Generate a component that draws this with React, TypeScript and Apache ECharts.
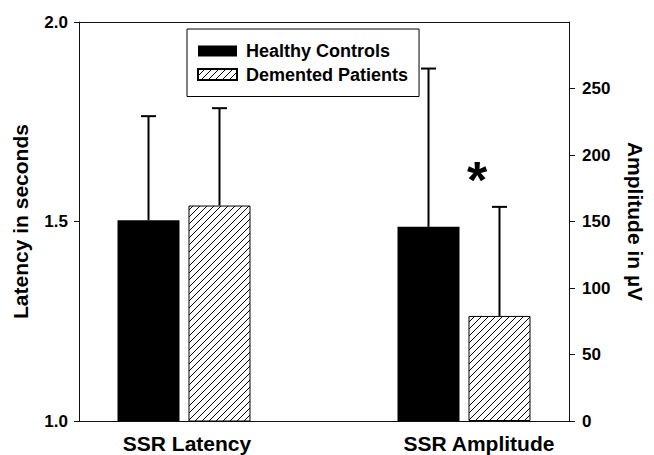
import React, { useEffect, useRef } from "react";
import * as echarts from "echarts";

// ---- data ----
const categories = ["SSR Latency", "SSR Amplitude"];
const groups = ["Healthy Controls", "Demented Patients"];
const latencyMean = [1.503, 1.54]; // seconds, [healthy, demented]
const latencySD = [0.261, 0.244];
const amplitudeMean = [146, 79]; // µV, [healthy, demented]
const amplitudeSD = [119, 82];
const leftTicks = [1.0, 1.5, 2.0];
const rightTicks = [0, 50, 100, 150, 200, 250];
const significance = "*";

// category slots on the x axis (7 equal bands, categories sit in bands 1 and 5)
const SLOT_COUNT = 7;
const categorySlot = [1, 5];

const FONT = "'Liberation Sans', Arial, Helvetica, sans-serif";
const BAR_W = 62;
const GAP = 0.145;

function makeHatch(): HTMLCanvasElement {
  const c = document.createElement("canvas");
  const s = 7;
  c.width = s;
  c.height = s;
  const ctx = c.getContext("2d")!;
  ctx.fillStyle = "#fff";
  ctx.fillRect(0, 0, s, s);
  ctx.strokeStyle = "#000";
  ctx.lineWidth = 1;
  ctx.beginPath();
  ctx.moveTo(0, s);
  ctx.lineTo(s, 0);
  ctx.moveTo(-1, 1);
  ctx.lineTo(1, -1);
  ctx.moveTo(s - 1, s + 1);
  ctx.lineTo(s + 1, s - 1);
  ctx.stroke();
  return c;
}

export default function App() {
  const ref = useRef<HTMLDivElement>(null);
  useEffect(() => {
    if (!ref.current) return;
    const chart = echarts.init(ref.current, null, { renderer: "svg" });
    const hatch = { image: makeHatch(), repeat: "repeat" } as any;

    const slotLabels: string[] = new Array(SLOT_COUNT).fill("");
    categorySlot.forEach((s, i) => (slotLabels[s] = categories[i]));

    const slotData = (catIdx: number, v: number) => {
      const arr: (number | null)[] = new Array(SLOT_COUNT).fill(null);
      arr[categorySlot[catIdx]] = v;
      return arr;
    };

    const barStyles = [
      { color: "#000", borderColor: "#000", borderWidth: 0 },
      { color: hatch, borderColor: "#000", borderWidth: 1 },
    ];

    const bars: any[] = [];
    groups.forEach((g, gi) => {
      bars.push({
        type: "bar",
        name: g,
        xAxisIndex: 0,
        yAxisIndex: 0,
        data: slotData(0, latencyMean[gi]),
        barWidth: BAR_W,
        barGap: GAP * 100 + "%",
        itemStyle: barStyles[gi],
        z: 2,
      });
    });
    groups.forEach((g, gi) => {
      bars.push({
        type: "bar",
        name: g,
        xAxisIndex: 1,
        yAxisIndex: 1,
        data: slotData(1, amplitudeMean[gi]),
        barWidth: BAR_W,
        barGap: GAP * 100 + "%",
        itemStyle: barStyles[gi],
        z: 2,
      });
    });

    const renderErr = (params: any, api: any) => {
      const slot = api.value(0);
      const mean = api.value(1);
      const top = api.value(2);
      const g = api.value(3);
      const b = api.coord([slot, mean]);
      const t = api.coord([slot, top]);
      const x = b[0] + (g - 0.5) * (BAR_W + BAR_W * GAP);
      return {
        type: "group",
        children: [
          { type: "line", shape: { x1: x, y1: b[1], x2: x, y2: t[1] }, style: { stroke: "#000", lineWidth: 2 } },
          { type: "line", shape: { x1: x - 7.5, y1: t[1], x2: x + 7.5, y2: t[1] }, style: { stroke: "#000", lineWidth: 2 } },
        ],
      };
    };

    const errLat = groups.map((_, gi) => [categorySlot[0], latencyMean[gi], latencyMean[gi] + latencySD[gi], gi]);
    const errAmp = groups.map((_, gi) => [categorySlot[1], amplitudeMean[gi], amplitudeMean[gi] + amplitudeSD[gi], gi]);

    const labelStyle = { fontFamily: FONT, fontWeight: "bold" as const, color: "#000" };
    const axisLine = { show: true, lineStyle: { color: "#111", width: 1 } };

    chart.setOption({
      animation: false,
      backgroundColor: "#fff",
      grid: { left: 79, width: 498, top: 22, bottom: 34, containLabel: false },
      legend: {
        data: groups,
        orient: "vertical",
        left: 187,
        top: 29,
        padding: [13, 11, 13, 10],
        itemGap: 5.5,
        itemWidth: 39,
        itemHeight: 11,
        icon: "rect",
        borderColor: "#000",
        borderWidth: 1,
        backgroundColor: "#fff",
        textStyle: { ...labelStyle, fontSize: 18, padding: [0, 0, 0, 4] },
      },
      xAxis: [
        {
          type: "category",
          position: "bottom",
          data: slotLabels,
          axisLine,
          axisTick: { show: false },
          axisLabel: {
            ...labelStyle,
            fontSize: 21,
            interval: 0,
            margin: 12,
            formatter: (v: string) => (v === categories[0] ? `{a|${v}}` : v === categories[1] ? `{b|${v}}` : v),
            rich: {
              a: { ...labelStyle, fontSize: 21, padding: [0, 0, 0, 6] },
              b: { ...labelStyle, fontSize: 21, padding: [0, 0, 0, 30] },
            },
          },
          splitLine: { show: false },
        },
        {
          type: "category",
          position: "top",
          data: slotLabels,
          axisLine,
          axisTick: { show: false },
          axisLabel: { show: false },
          splitLine: { show: false },
        },
      ],
      yAxis: [
        {
          type: "value",
          position: "left",
          min: 1,
          max: 2,
          interval: 0.5,
          name: "Latency in seconds",
          nameLocation: "middle",
          nameGap: 48,
          nameTextStyle: { ...labelStyle, fontSize: 21 },
          axisLine,
          axisTick: { show: true, length: 5, lineStyle: { color: "#111" }, customValues: leftTicks },
          axisLabel: { ...labelStyle, fontSize: 17, margin: 11, customValues: leftTicks, formatter: (v: number) => v.toFixed(1) },
          splitLine: { show: false },
        },
        {
          type: "value",
          position: "right",
          min: 0,
          max: 300,
          interval: 50,
          name: "Amplitude in µV",
          nameLocation: "middle",
          nameGap: 56,
          nameRotate: -90,
          nameTextStyle: { ...labelStyle, fontSize: 21 },
          axisLine,
          axisTick: { show: true, length: 6, lineStyle: { color: "#111" }, customValues: rightTicks },
          axisLabel: { ...labelStyle, fontSize: 17, margin: 13, customValues: rightTicks },
          splitLine: { show: false },
        },
      ],
      graphic: [
        {
          type: "text",
          x: 477,
          y: 180,
          z: 10,
          style: {
            text: significance,
            font: `bold 52px ${FONT}`,
            fill: "#000",
            align: "center",
            verticalAlign: "middle",
          },
        },
      ],
      series: [
        ...bars,
        {
          type: "custom",
          xAxisIndex: 0,
          yAxisIndex: 0,
          renderItem: renderErr,
          encode: { x: 0, y: 1 },
          data: errLat,
          z: 3,
        },
        {
          type: "custom",
          xAxisIndex: 1,
          yAxisIndex: 1,
          renderItem: renderErr,
          encode: { x: 0, y: 1 },
          data: errAmp,
          z: 3,
        },
      ],
    });
    return () => chart.dispose();
  }, []);
  return <div ref={ref} style={{ position: "fixed", left: 0, top: 0, width: 654, height: 455 }} />;
}
